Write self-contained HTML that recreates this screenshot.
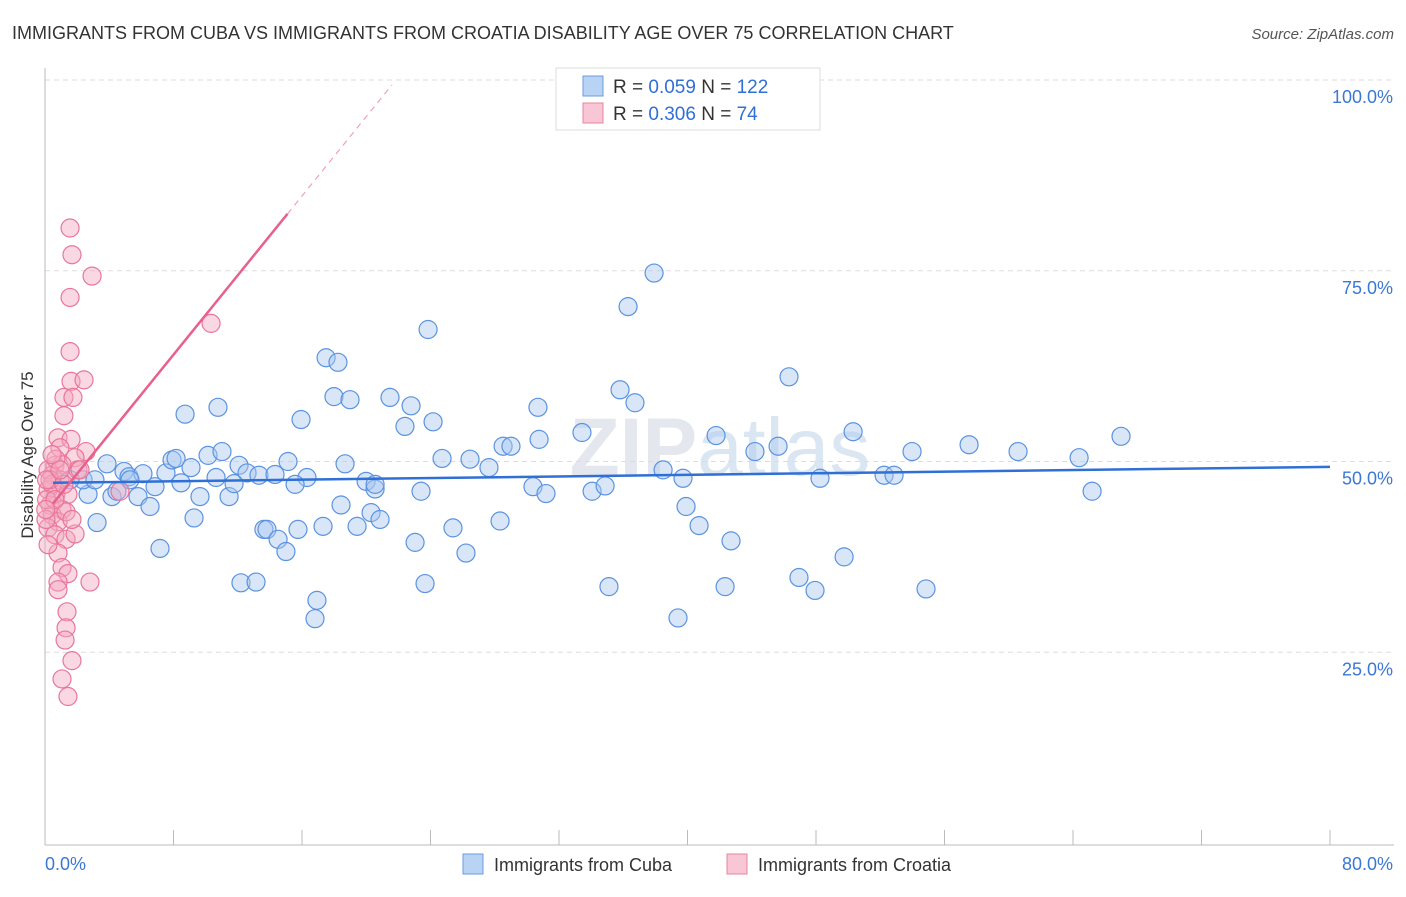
<!DOCTYPE html>
<html><head><meta charset="utf-8"><style>
body{margin:0;background:#fff;font-family:"Liberation Sans",sans-serif;}
svg text{font-family:"Liberation Sans",sans-serif;}
</style></head><body>
<svg id="chart" width="1406" height="892" xmlns="http://www.w3.org/2000/svg">
<text x="12" y="39" font-size="18" fill="#333">IMMIGRANTS FROM CUBA VS IMMIGRANTS FROM CROATIA DISABILITY AGE OVER 75 CORRELATION CHART</text>
<text x="1394" y="39" font-size="15" fill="#555" text-anchor="end" font-style="italic">Source: ZipAtlas.com</text>
<text x="720" y="475" font-size="82" fill="#e4e8ee" text-anchor="middle" font-weight="bold">ZIP<tspan font-weight="normal" fill="#dbe6f3">atlas</tspan></text>
<g id="grid"></g>
<g id="axes"></g>
<g id="marks"></g>
<text transform="translate(33,455) rotate(-90)" font-size="17" fill="#333" text-anchor="middle">Disability Age Over 75</text>
<g>
<rect x="556" y="68" width="264" height="62" fill="#fff" stroke="#ddd"/>
<rect x="583" y="76" width="20" height="20" fill="#b9d3f5" stroke="#6a9be0"/>
<rect x="583" y="103" width="20" height="20" fill="#f8c6d5" stroke="#e8859f"/>
<text x="613" y="93" font-size="19" fill="#333">R = <tspan fill="#2f6fd6">0.059</tspan>   N = <tspan fill="#2f6fd6">122</tspan></text>
<text x="613" y="120" font-size="19" fill="#333">R = <tspan fill="#2f6fd6">0.306</tspan>   N =   <tspan fill="#2f6fd6">74</tspan></text>
</g>
<g>
<rect x="463" y="854" width="20" height="20" fill="#b9d3f5" stroke="#6a9be0"/>
<text x="494" y="871" font-size="18" fill="#333">Immigrants from Cuba</text>
<rect x="727" y="854" width="20" height="20" fill="#f8c6d5" stroke="#e8859f"/>
<text x="758" y="871" font-size="18" fill="#333">Immigrants from Croatia</text>
</g>
</svg>
<script>
const cubaX=[3.86,4.92,5.23,6.10,7.53,7.91,8.16,9.09,10.15,11.02,12.08,12.58,13.32,15.13,16.31,18.68,19.99,20.55,21.48,22.41,22.79,24.16,24.72,27.64,28.52,29.01,30.76,30.69,33.43,35.80,36.73,38.48,39.72,41.78,44.20,45.64,46.32,48.25,50.31,52.24,52.86,53.98,57.53,60.58,64.38,66.99,65.19,8.72,10.77,15.94,17.50,18.24,17.99,18.99,23.85,36.30,37.92,2.68,3.24,4.17,5.79,6.54,6.85,8.47,9.28,9.65,10.65,11.46,11.77,13.63,13.82,14.51,15.00,15.57,15.75,17.31,18.43,19.43,20.30,20.86,20.55,23.04,23.41,25.40,26.21,28.33,30.38,31.19,34.06,34.87,39.91,40.72,42.71,7.16,12.20,13.14,16.93,16.81,23.66,35.11,39.41,42.34,46.94,47.94,49.75,54.85,2.37,3.11,4.48,1.56,5.29,14.32,26.46];
const cubaY=[49.7,48.7,48.0,48.4,48.5,50.2,50.4,49.2,50.8,51.3,49.5,48.5,48.2,50.0,47.9,49.7,47.4,46.4,58.4,54.6,57.3,55.2,50.4,49.2,52.0,52.0,52.9,57.1,53.8,59.4,57.7,48.9,47.8,53.4,51.3,52.0,61.1,47.8,53.9,48.2,48.2,51.3,52.2,51.3,50.5,53.3,46.1,56.2,57.1,55.5,63.6,63.0,58.5,58.1,67.3,70.3,74.7,45.7,42.0,45.4,45.4,44.1,46.7,47.2,42.6,45.4,47.9,45.4,47.1,41.1,41.1,39.8,38.2,47.0,41.1,41.5,44.3,41.5,43.3,42.4,47.0,39.4,46.1,41.3,38.0,42.2,46.7,45.8,46.1,46.8,44.1,41.6,39.6,38.6,34.1,34.2,31.8,29.4,34.0,33.6,29.5,33.6,34.8,33.1,37.5,33.3,47.6,47.6,46.1,47.6,47.6,48.3,50.3];
const croX=[1.56,1.68,2.93,1.56,1.56,1.62,2.43,10.34,1.18,1.74,1.18,0.81,1.62,2.55,0.93,1.87,2.05,0.62,1.06,0.44,0.93,0.19,0.68,1.43,0.31,1.06,0.44,0.81,0.19,1.31,0.62,1.31,1.87,0.81,1.06,1.43,0.81,2.80,1.37,1.31,1.25,1.68,1.06,1.43,0.19,0.44,0.1,0.06,4.67,2.18,0.68,0.31,1.18,0.62,0.05,0.19,1.68,0.81,0.1,0.44,0.93];
const croY=[80.6,77.1,74.3,71.5,64.4,60.5,60.7,68.1,58.4,58.4,56.0,53.1,52.9,51.3,51.8,50.5,48.9,49.5,49.6,48.2,47.6,46.3,45.7,45.7,44.3,43.7,43.0,42.1,41.3,43.4,40.4,39.8,40.5,38.0,36.1,35.3,34.2,34.2,30.3,28.2,26.6,23.9,21.5,19.2,48.9,47.0,45.0,42.4,46.1,48.9,50.3,47.6,47.0,45.0,43.7,39.1,42.4,33.2,47.6,50.9,48.9];
const cubaTrend=[47.2,49.3]; // y at x=0 and x=80
const croTrend=[43.2,2.6]; // intercept, slope
const croSolidEnd=15.1, croDashEnd=21.6;
const xTicks=[0,8,16,24,32,40,48,56,64,72,80];
const yTicks=[25,50,75,100];
const yTickLabels=["25.0%","50.0%","75.0%","100.0%"];
const xEndLabels=["0.0%","80.0%"];

const NS="http://www.w3.org/2000/svg";
const X0=45,X1=1330,Y0=843,Y100=80;
const sx=v=>X0+(X1-X0)*v/80;
const sy=v=>Y0-(Y0-Y100)*v/100;
function mk(tag,attrs,parent){const e=document.createElementNS(NS,tag);for(const k in attrs)e.setAttribute(k,attrs[k]);parent.appendChild(e);return e;}
const grid=document.getElementById('grid'),axes=document.getElementById('axes'),marks=document.getElementById('marks');
yTicks.forEach((t,i)=>{
  const l=mk('line',{x1:X0,x2:1394,y1:sy(t),y2:sy(t),stroke:'#ddd','stroke-dasharray':'5,4'},grid);
  
  
  const tx=mk('text',{x:1393,y:sy(t)+23,'font-size':18,fill:'#3a78d4','text-anchor':'end'},axes);
  tx.textContent=yTickLabels[i];
  
  
});
const ax=mk('line',{x1:X0,x2:1394,y1:845,y2:845,stroke:'#bbb'},axes);


const ay=mk('line',{x1:X0,x2:X0,y1:68,y2:845,stroke:'#bbb'},axes);


xTicks.forEach(t=>{
  const l=mk('line',{x1:sx(t),x2:sx(t),y1:830,y2:845,stroke:'#bbb'},axes);
  
  
});
[[0,'start',45],[80,'end',1393]].forEach((p,i)=>{
  const tx=mk('text',{x:p[2],y:870,'font-size':18,fill:'#3a78d4','text-anchor':p[1]},axes);
  tx.textContent=xEndLabels[i];
  
  
});
function dots(xs,ys,fill,stroke,name){
  xs.forEach((x,i)=>{
    const c=mk('circle',{cx:sx(x),cy:sy(ys[i]),r:9,fill:fill,'fill-opacity':0.45,stroke:stroke,'stroke-width':1.2},marks);
    
    
  });
}
dots(cubaX,cubaY,'#a9c8f0','#5b93e0','cuba-point');
dots(croX,croY,'#f5a9c0','#e8769a','croatia-point');
const bl=mk('line',{x1:sx(0.5),y1:sy(cubaTrend[0]+(cubaTrend[1]-cubaTrend[0])*0.5/80),x2:sx(80),y2:sy(cubaTrend[1]),stroke:'#2f6fd6','stroke-width':2.5},marks);


const pl=mk('line',{x1:sx(0.5),y1:sy(croTrend[0]+croTrend[1]*0.5),x2:sx(croSolidEnd),y2:sy(croTrend[0]+croTrend[1]*croSolidEnd),stroke:'#e8608c','stroke-width':2.5},marks);


const pd=mk('line',{x1:sx(croSolidEnd),y1:sy(croTrend[0]+croTrend[1]*croSolidEnd),x2:sx(croDashEnd),y2:sy(croTrend[0]+croTrend[1]*croDashEnd),stroke:'#f0a0b8','stroke-width':1.2,'stroke-dasharray':'6,5'},marks);


</script>
</body></html>
